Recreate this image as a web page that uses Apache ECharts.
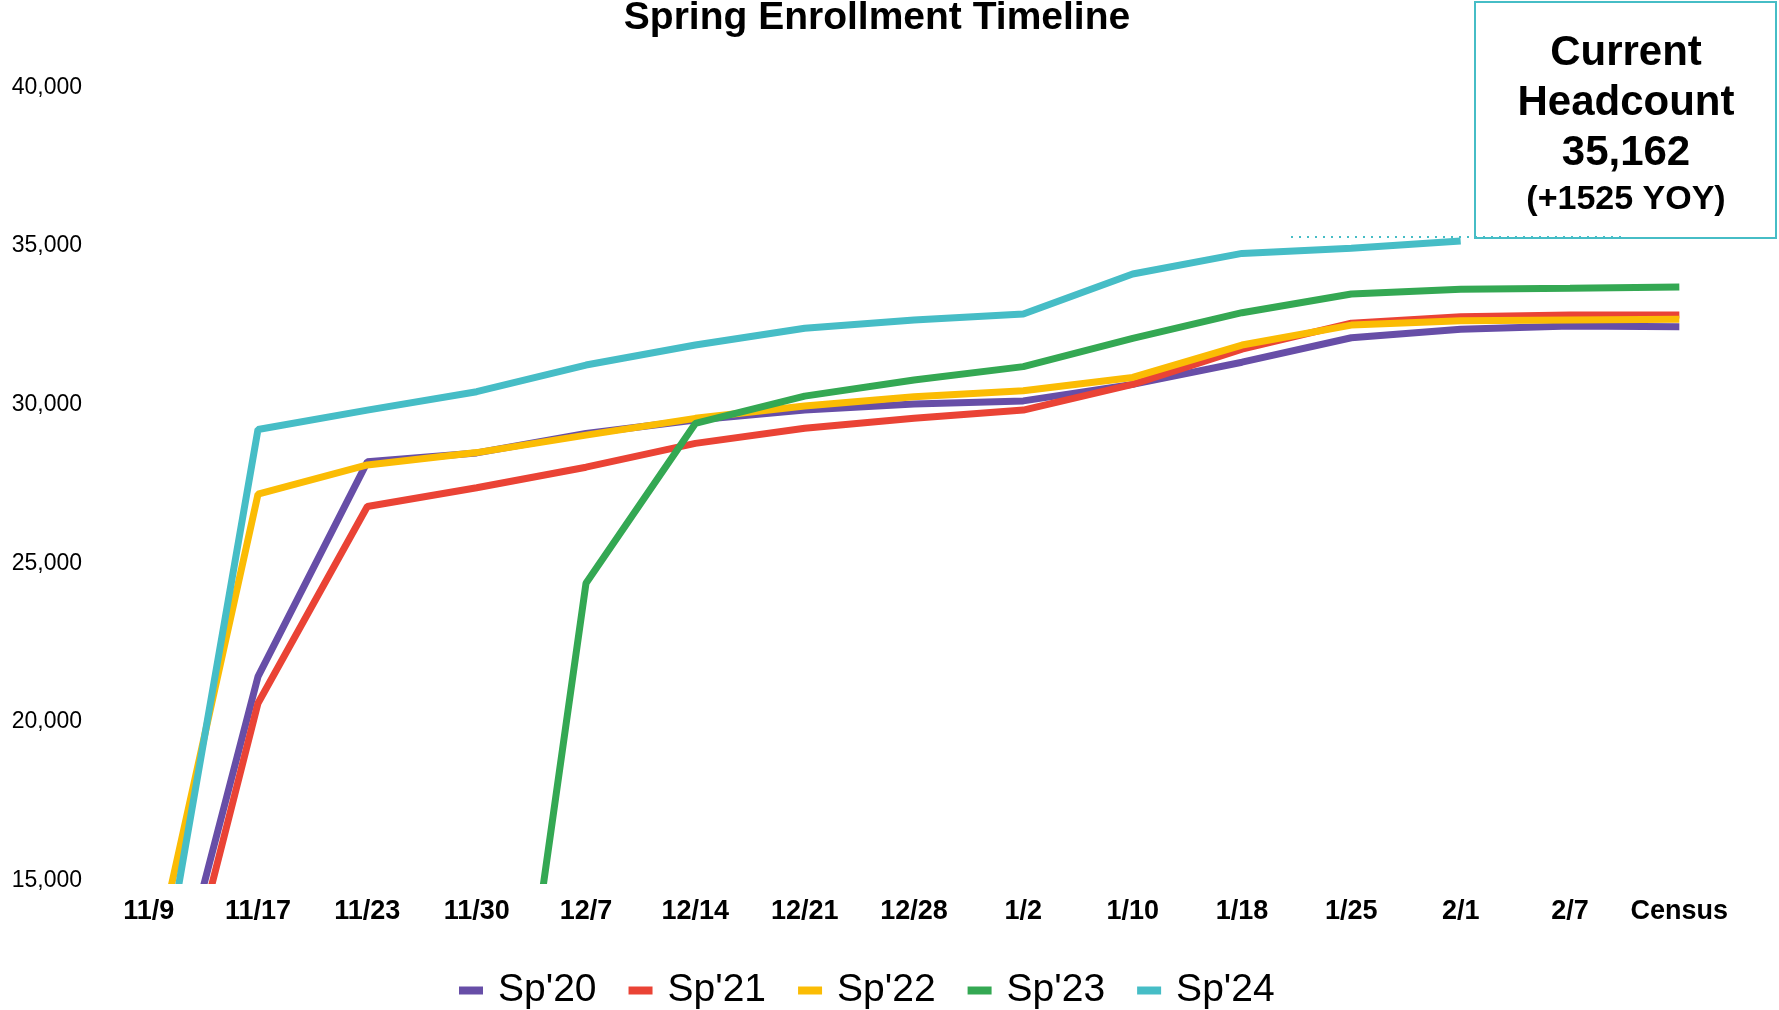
<!DOCTYPE html>
<html>
<head>
<meta charset="utf-8">
<title>Spring Enrollment Timeline</title>
<script src="https://cdn.jsdelivr.net/npm/echarts@6/dist/echarts.min.js"></script>
<style>
  html, body { margin: 0; padding: 0; background: #fff; }
  #chart { width: 1779px; height: 1010px; }
</style>
</head>
<body>
<div id="chart"></div>
<script>
  // dates on the x axis
  var dates = ['11/9', '11/17', '11/23', '11/30', '12/7', '12/14', '12/21', '12/28', '1/2', '1/10', '1/18', '1/25', '2/1', '2/7', 'Census']

  // headcount by term
  var sp20 = [8180, 21430, 28200, 28480, 29090, 29520, 29830, 30020, 30120, 30640, 31340, 32110, 32380, 32480, 32460]
  var sp21 = [7030, 20590, 26790, 27380, 28030, 28780, 29260, 29570, 29830, 30640, 31750, 32570, 32770, 32830, 32830]
  var sp22 = [11610, 27180, 28100, 28490, 29040, 29570, 29960, 30250, 30440, 30860, 31880, 32510, 32650, 32670, 32690]
  var sp23 = [null, null, null, 0, 24370, 29410, 30270, 30780, 31200, 32090, 32900, 33490, 33640, 33670, 33710]
  var sp24 = [9410, 29220, 29830, 30410, 31250, 31880, 32410, 32670, 32860, 34120, 34770, 34930, 35162, null, null]

  var termNames = ["Sp'20", "Sp'21", "Sp'22", "Sp'23", "Sp'24"]
  var termColors = ['#674EA7', '#EA4335', '#FBBC04', '#34A853', '#46BDC6']

  var yTicks = [15000, 20000, 25000, 30000, 35000, 40000]

  var font = 'Liberation Sans, Arial, Helvetica, sans-serif'

  function lineSeries(name, data, color) {
    return {
      name: name,
      type: 'line',
      data: data,
      symbol: 'none',
      connectNulls: false,
      lineStyle: { width: 7, color: color },
      itemStyle: { color: color }
    }
  }

  var myChart = echarts.init(document.getElementById('chart'))
  var option = {
    animation: false,
    backgroundColor: '#fff',
    title: {
      text: 'Spring Enrollment Timeline',
      left: 872,
      textAlign: 'center',
      top: -6,
      textStyle: { fontFamily: font, fontSize: 39, fontWeight: 'bold', color: '#000' }
    },
    grid: { left: 94, right: 45, top: 87.5, bottom: 129.5, containLabel: false },
    legend: {
      data: termNames,
      left: 454,
      top: 966,
      icon: 'rect',
      itemWidth: 24,
      itemHeight: 8,
      itemGap: 32,
      textStyle: { fontFamily: font, fontSize: 39, color: '#000', padding: [0, 0, 0, 10] }
    },
    xAxis: {
      type: 'category',
      data: dates,
      boundaryGap: true,
      axisLine: { show: false },
      axisTick: { show: false },
      axisLabel: { margin: 18, fontFamily: font, fontSize: 27, fontWeight: 'bold', color: '#000', interval: 0 }
    },
    yAxis: {
      type: 'value',
      min: yTicks[0],
      max: yTicks[yTicks.length - 1],
      interval: yTicks[1] - yTicks[0],
      axisLine: { show: false },
      axisTick: { show: false },
      splitLine: { show: false },
      axisLabel: {
        margin: 12,
        fontFamily: font,
        fontSize: 23,
        color: '#000',
        formatter: function (v) { return v.toLocaleString('en-US') }
      }
    },
    series: [
      lineSeries(termNames[0], sp20, termColors[0]),
      lineSeries(termNames[1], sp21, termColors[1]),
      lineSeries(termNames[2], sp22, termColors[2]),
      lineSeries(termNames[3], sp23, termColors[3]),
      lineSeries(termNames[4], sp24, termColors[4])
    ],
    // callout box
    graphic: [
      {
        type: 'line',
        shape: { x1: 1291, y1: 237, x2: 1622, y2: 237 },
        style: { stroke: '#46BDC6', lineWidth: 2, lineDash: [2, 6] },
        z: 10
      },
      {
        type: 'rect',
        shape: { x: 1475, y: 2, width: 301, height: 236 },
        style: { fill: 'rgba(255,255,255,0)', stroke: '#46BDC6', lineWidth: 2 },
        z: 10
      },
      {
        type: 'text', x: 1626, y: 53, z: 11,
        style: { text: 'Current', fill: '#000', font: 'bold 42px ' + font, align: 'center', verticalAlign: 'middle' }
      },
      {
        type: 'text', x: 1626, y: 103, z: 11,
        style: { text: 'Headcount', fill: '#000', font: 'bold 42px ' + font, align: 'center', verticalAlign: 'middle' }
      },
      {
        type: 'text', x: 1626, y: 153, z: 11,
        style: { text: '35,162', fill: '#000', font: 'bold 42px ' + font, align: 'center', verticalAlign: 'middle' }
      },
      {
        type: 'text', x: 1626, y: 200, z: 11,
        style: { text: '(+1525 YOY)', fill: '#000', font: 'bold 34px ' + font, align: 'center', verticalAlign: 'middle' }
      }
    ]
  }
  myChart.setOption(option)
</script>
</body>
</html>
